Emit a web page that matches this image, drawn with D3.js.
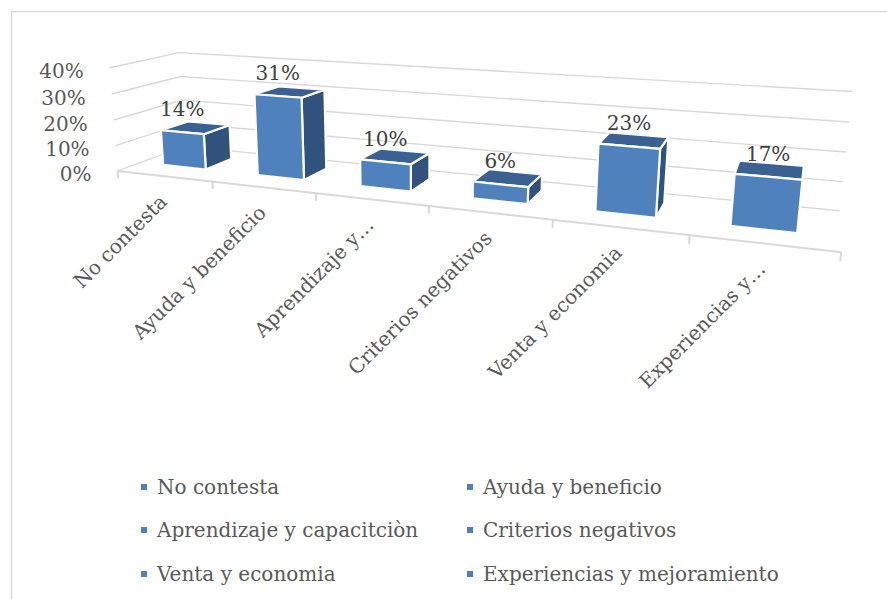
<!DOCTYPE html>
<html><head><meta charset="utf-8">
<script src="https://cdn.jsdelivr.net/npm/d3@7"></script>
<style>
body{margin:0;background:#fff}
svg{display:block}
text{font-family:"DejaVu Serif",serif}
</style>
</head><body>
<svg id="chart" width="887" height="599"></svg>
<script>
// ---------- data ----------
const categories = ["No contesta","Ayuda y beneficio","Aprendizaje y capacitciòn","Criterios negativos","Venta y economia","Experiencias y mejoramiento"];
const axisLabels = ["No contesta","Ayuda y beneficio","Aprendizaje y…","Criterios negativos","Venta y economia","Experiencias y…"];
const values = [0.14,0.31,0.10,0.06,0.23,0.17];
const valueTicks = [0,0.1,0.2,0.3,0.4];

// ---------- perspective frame (world box [0,1]^3 -> screen) ----------
// X: category direction, Y: value direction, Z: depth (0 front, 1 back wall)
const frameAnchors = [
  [[0,0,0],[119,170]], [[0,1,0],[107,68]],
  [[0,0,1],[182,148]], [[0,1,1],[182,52]],
  [[1,0,1],[840,209]], [[1,1,1],[852,92]],
  [[1,0,0],[842,253]],
  [[1/6,0,0],[214,181]], [[2/6,0,0],[317,193]], [[3/6,0,0],[428,206]],
  [[4/6,0,0],[552,220]], [[5/6,0,0],[689,236]]
];
function solveProjection(anchors){
  const n=11, A=[...Array(n)].map(()=>new Array(n+1).fill(0));
  const add=(r,b)=>{for(let i=0;i<n;i++){for(let j=0;j<n;j++)A[i][j]+=r[i]*r[j];A[i][n]+=r[i]*b;}};
  anchors.forEach(([[X,Y,Z],[u,v]])=>{
    add([X,Y,Z,1,0,0,0,0,-u*X,-u*Y,-u*Z],u);
    add([0,0,0,0,X,Y,Z,1,-v*X,-v*Y,-v*Z],v);
  });
  for(let c=0;c<n;c++){
    let p=c;for(let r=c+1;r<n;r++)if(Math.abs(A[r][c])>Math.abs(A[p][c]))p=r;
    [A[c],A[p]]=[A[p],A[c]];
    for(let r=0;r<n;r++){if(r===c)continue;const f=A[r][c]/A[c][c];for(let k=c;k<=n;k++)A[r][k]-=f*A[c][k];}
  }
  return A.map((row,i)=>row[n]/row[i]);
}
const P = solveProjection(frameAnchors);
function proj(X,Y,Z){
  const w=P[8]*X+P[9]*Y+P[10]*Z+1;
  return [(P[0]*X+P[1]*Y+P[2]*Z+P[3])/w,(P[4]*X+P[5]*Y+P[6]*Z+P[7])/w];
}

// ---------- scales ----------
const xBand = d3.scaleBand().domain(categories).range([-0.003,0.997]).paddingInner(0.54).paddingOuter(0.27);
const yVal = d3.scaleLinear().domain([0,0.4]).range([0,1]);
const zFront = 0.32, zBack = 0.73;
const fmt = d3.format(".0%");

const svg = d3.select("#chart");
const FS = 20;
const grid = "#D9D9D9";

// chart border
svg.append("rect").attr("x",11.5).attr("y",11.5).attr("width",900).attr("height",600)
  .attr("fill","none").attr("stroke",grid).attr("stroke-width",1.5);

const line = d3.line();
// gridlines: left wall + back wall
const gG = svg.append("g");
valueTicks.forEach(t=>{
  const y=yVal(t);
  gG.append("path").attr("d",line([proj(0,y,0),proj(0,y,1),proj(1,y,1)]))
    .attr("fill","none").attr("stroke",grid).attr("stroke-width",1.4);
});
// category axis (floor front edge) + ticks
gG.append("path").attr("d",line([proj(0,0,0),proj(1,0,0)]))
  .attr("fill","none").attr("stroke",grid).attr("stroke-width",2);
d3.range(categories.length+1).forEach(k=>{
  const X=k/categories.length;
  gG.append("path").attr("d",line([proj(X,0,0),proj(X,-0.07,0)]))
    .attr("fill","none").attr("stroke",grid).attr("stroke-width",2);
});

// value axis labels
svg.append("g").selectAll("text").data(valueTicks).join("text")
  .attr("x",d=>proj(0,yVal(d),0)[0]-26)
  .attr("y",d=>proj(0,yVal(d),0)[1]+3.5)
  .attr("text-anchor","end").attr("dominant-baseline","central")
  .attr("font-size",FS).attr("fill","#595959").text(d=>fmt(d));

// bars
const colFront="#4F81BD", colSide="#31527C", colTop="#3A6192";
function area(pts){let s=0;for(let i=0;i<pts.length;i++){const a=pts[i],b=pts[(i+1)%pts.length];s+=a[0]*b[1]-b[0]*a[1];}return s;}
const barG = svg.append("g");
categories.forEach((c,i)=>{
  const x0=xBand(c), x1=x0+xBand.bandwidth(), v=yVal(values[i]), z0=zFront, z1=zBack;
  const faces=[
    {pts:[[x1,0,z0],[x1,v,z0],[x1,v,z1],[x1,0,z1]],fill:colSide},
    {pts:[[x0,0,z0],[x0,0,z1],[x0,v,z1],[x0,v,z0]],fill:colSide},
    {pts:[[x0,v,z0],[x0,v,z1],[x1,v,z1],[x1,v,z0]],fill:colTop},
    {pts:[[x0,0,z0],[x0,v,z0],[x1,v,z0],[x1,0,z0]],fill:colFront}
  ];
  const ref=Math.sign(area(faces[3].pts.map(p=>proj(...p))));
  faces.forEach(f=>{
    const sp=f.pts.map(p=>proj(...p));
    if(Math.sign(area(sp))!==ref) return;
    barG.append("path").attr("d",line(sp)+"Z").attr("fill",f.fill)
      .attr("stroke","#fff").attr("stroke-width",2.2).attr("stroke-linejoin","round");
  });
});

// data labels
svg.append("g").selectAll("text").data(categories).join("text")
  .attr("x",(c,i)=>proj(xBand(c)+xBand.bandwidth()/2,yVal(values[i]),zFront)[0])
  .attr("y",(c,i)=>proj(xBand(c)+xBand.bandwidth()/2,yVal(values[i]),zFront)[1]-23)
  .attr("text-anchor","middle").attr("dominant-baseline","central")
  .attr("font-size",FS).attr("fill","#404040").text((c,i)=>fmt(values[i]));

// category labels
svg.append("g").selectAll("text").data(categories).join("text")
  .attr("transform",(c,i)=>{const p=proj(xBand(c)+xBand.bandwidth()/2,0,0);return `translate(${p[0]+6},${p[1]+27}) rotate(-45)`;})
  .attr("text-anchor","end").attr("font-size",FS).attr("fill","#595959")
  .text((c,i)=>axisLabels[i]);

// legend
const legX=[144,470], legY=[487,530,574];
const lg = svg.append("g").selectAll("g").data(categories).join("g")
  .attr("transform",(c,i)=>`translate(${legX[i%2]},${legY[Math.floor(i/2)]})`);
lg.append("rect").attr("x",-3).attr("y",-3).attr("width",6).attr("height",6).attr("fill",colFront);
lg.append("text").attr("x",13).attr("y",0).attr("dominant-baseline","central")
  .attr("font-size",FS).attr("fill","#595959").text(c=>c);
</script>
</body></html>
